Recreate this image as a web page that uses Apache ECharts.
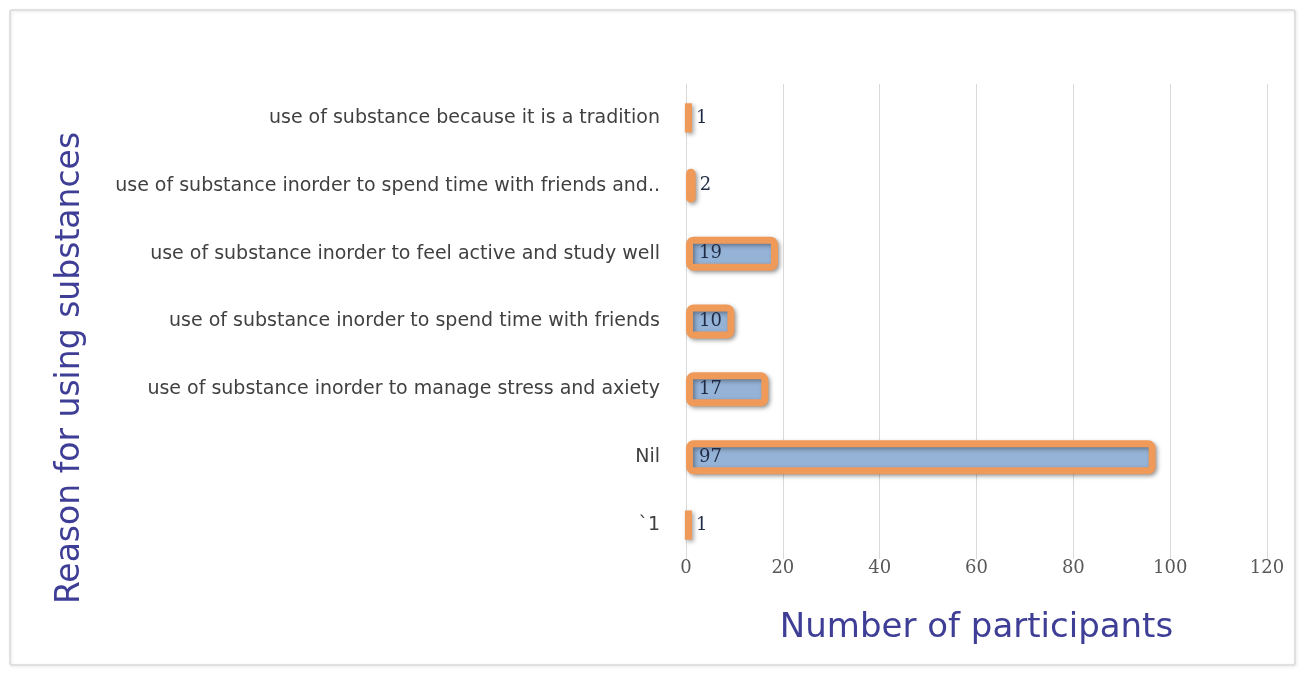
<!DOCTYPE html>
<html>
<head>
<meta charset="utf-8">
<script src="https://cdn.jsdelivr.net/npm/echarts@6/dist/echarts.min.js"></script>
<style>
  html, body { margin: 0; padding: 0; background: #fff; }
  #main { width: 1303px; height: 676px; }
</style>
</head>
<body>
<div id="main"></div>
<script>
// 数据 (从下往上)
var categories = [
  '`1',
  'Nil',
  'use of substance inorder to manage stress and axiety',
  'use of substance inorder to spend time with friends',
  'use of substance inorder to feel active and study well',
  'use of substance inorder to spend time with friends and..',
  'use of substance because it is a tradition'
];
var counts = [1, 97, 17, 10, 19, 2, 1];
var xTicks = [0, 20, 40, 60, 80, 100, 120];

var chart = echarts.init(document.getElementById('main'));

// 小数值的标签放在柱子右边
var barData = counts.map(function(v) {
  return {
    value: v,
    label: { position: v < 5 ? 'right' : 'insideLeft', distance: v < 5 ? 4 : 13 }
  };
});

chart.setOption({
  animation: false,
  backgroundColor: '#fff',
  grid: { left: 686, right: 36, top: 84, bottom: 117 },
  graphic: [
    {
      type: 'rect',
      shape: { x: 10, y: 10, width: 1285, height: 655, r: 2 },
      style: { fill: 'none', stroke: '#d9d9d9', lineWidth: 1.5,
        shadowColor: 'rgba(0,0,0,0.12)', shadowBlur: 3, shadowOffsetX: 1, shadowOffsetY: 1 },
      silent: true
    },
    {
      type: 'text',
      x: 70, y: 368,
      rotation: Math.PI / 2,
      style: {
        text: 'Reason for using substances',
        fill: '#3f3e96',
        font: '33px "DejaVu Sans", sans-serif',
        textAlign: 'center',
        textVerticalAlign: 'middle'
      }
    }
  ],
  xAxis: {
    type: 'value',
    min: 0, max: 120, interval: 20,
    name: 'Number of participants',
    nameLocation: 'middle',
    nameGap: 52,
    nameTextStyle: { color: '#3f3e96', fontSize: 34, fontFamily: '"DejaVu Sans", sans-serif' },
    axisLine: { show: false },
    axisTick: { show: false },
    axisLabel: {
      color: '#595959', fontSize: 18, margin: 0,
      fontFamily: '"DejaVu Serif", serif',
      formatter: function(v) { return xTicks.indexOf(v) >= 0 ? v : ''; }
    },
    splitLine: { lineStyle: { color: '#d9d9d9', width: 1 } }
  },
  yAxis: {
    type: 'category',
    data: categories,
    axisLine: { show: true, lineStyle: { color: '#d9d9d9' } },
    axisTick: { show: false },
    axisLabel: {
      color: '#404040', fontSize: 19, margin: 26,
      fontFamily: '"DejaVu Sans", sans-serif'
    }
  },
  series: [{
    type: 'bar',
    data: barData,
    barWidth: 34,
    itemStyle: {
      color: '#95b3d7',
      borderColor: '#f09a5a',
      borderWidth: 7,
      borderRadius: 4,
      shadowColor: 'rgba(0,0,0,0.35)',
      shadowBlur: 4,
      shadowOffsetX: 2,
      shadowOffsetY: 2
    },
    label: {
      show: true,
      color: '#1f2a44',
      fontSize: 18,
      fontFamily: '"DejaVu Serif", serif'
    }
  }]
});
</script>
</body>
</html>
